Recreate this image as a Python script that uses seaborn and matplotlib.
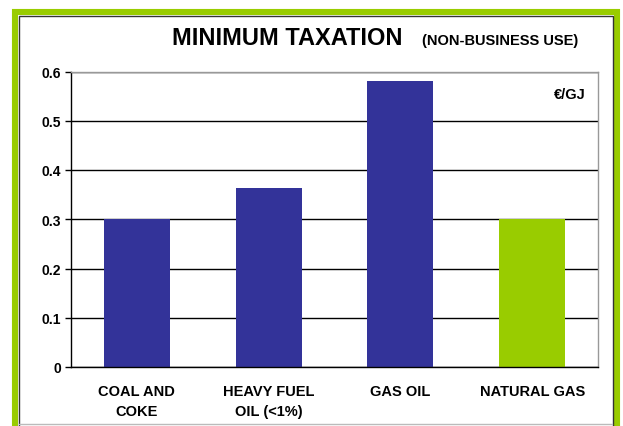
import matplotlib
matplotlib.use("Agg")
import matplotlib.pyplot as plt
import seaborn as sns
import pandas as pd
from matplotlib.patches import Rectangle
from matplotlib.lines import Line2D

categories = ["COAL AND\nCOKE", "HEAVY FUEL\nOIL (<1%)", "GAS OIL", "NATURAL GAS"]
values = [0.30, 0.363, 0.58, 0.30]
bar_colors = ["#333399", "#333399", "#333399", "#99CC00"]
ytick_values = [0, 0.1, 0.2, 0.3, 0.4, 0.5, 0.6]
ytick_labels = ["0", "0.1", "0.2", "0.3", "0.4", "0.5", "0.6"]

sns.set_theme(style="white")
plt.rcParams['font.family'] = ['Liberation Sans', 'DejaVu Sans']

W, H = 623, 427
fig = plt.figure(figsize=(W / 100, H / 100), dpi=100)
fig.patch.set_facecolor("white")

def fx(px):
    return px / W

def fy(py):
    return 1 - py / H

ax = fig.add_axes([fx(71), fy(368), fx(598) - fx(71), fy(72.5) - fy(368)])

df = pd.DataFrame({"cat": categories, "val": values})
sns.barplot(data=df, x="cat", y="val", hue="cat", palette=bar_colors,
            width=0.5, saturation=1, legend=False, linewidth=0, ax=ax)

ax.set_xlim(-0.5, len(categories) - 0.5)
ax.set_ylim(0, 0.6)
ax.set_yticks(ytick_values)
ax.set_yticklabels(ytick_labels, fontsize=10, fontweight="bold", color="black")
ax.set_xticks(range(len(categories)))
ax.set_xticklabels(categories, fontsize=10.5, fontweight="bold", color="black",
                   linespacing=1.55)
ax.set_xticks([i - 0.5 for i in range(len(categories) + 1)], minor=True)
ax.tick_params(axis="x", which="major", length=0, pad=12)
ax.tick_params(axis="x", which="minor", length=4, width=1, color="black", direction="out")
ax.tick_params(axis="y", length=4, width=1, color="black", direction="out", pad=3, left=True)
ax.set_xlabel("")
ax.set_ylabel("")
for label in ax.get_xticklabels():
    label.set_verticalalignment("top")

ax.yaxis.grid(True, color="black", linewidth=1)
ax.set_axisbelow(True)
for s in ["left", "bottom"]:
    ax.spines[s].set_color("black")
    ax.spines[s].set_linewidth(1)
for s in ["top", "right"]:
    ax.spines[s].set_color("#999999")
    ax.spines[s].set_linewidth(1)

ax.text(fx(586), fy(95), "€/GJ", transform=fig.transFigure, ha="right", va="center",
        fontsize=10.5, fontweight="bold", color="black")

# Title
fig.text(fx(172), fy(45), "MINIMUM TAXATION", fontsize=17, fontweight="bold",
         ha="left", va="baseline", color="black")
fig.text(fx(578), fy(45), "(NON-BUSINESS USE)", fontsize=10.5, fontweight="bold",
         ha="right", va="baseline", color="black")

# Green frame
fig.patches.append(Rectangle((fx(15), fy(460)), fx(617) - fx(15), fy(12.5) - fy(460),
                             transform=fig.transFigure, fill=False,
                             edgecolor="#99CC00", linewidth=4.4, zorder=0))
fig.patches.append(Rectangle((fx(18.5), fy(460)), fx(613) - fx(18.5), fy(16.5) - fy(460),
                             transform=fig.transFigure, fill=False,
                             edgecolor="#333333", linewidth=1.0, zorder=0))
fig.lines.append(Line2D([fx(19), fx(612)], [fy(424.5), fy(424.5)], transform=fig.transFigure,
                        color="#BBBBBB", linewidth=1.0))

fig.savefig("out.png", dpi=100, facecolor="white")
